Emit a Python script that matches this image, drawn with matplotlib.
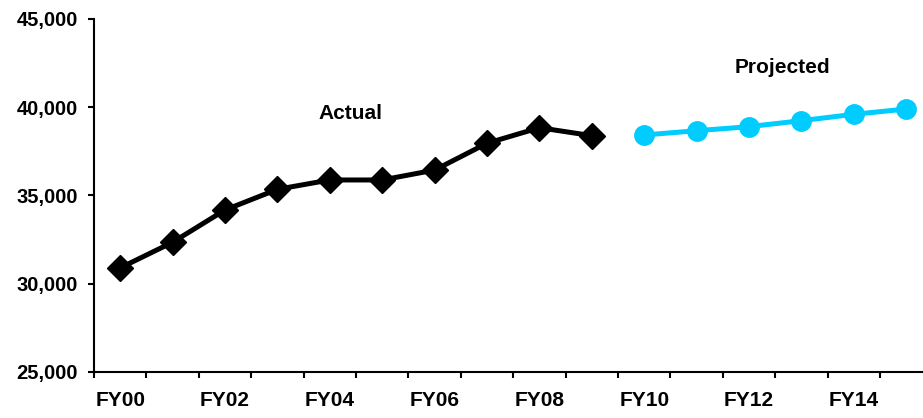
import numpy as np
import matplotlib.pyplot as plt

plt.rcParams['font.family'] = ['Liberation Sans', 'DejaVu Sans']
plt.rcParams['font.weight'] = 'bold'

years = ['FY%02d' % i for i in range(16)]
actual_years = years[:10]
actual = [30900, 32350, 34180, 35350, 35880, 35880, 36440, 37960, 38840, 38390]
projected_years = years[10:]
projected = [38430, 38670, 38900, 39240, 39600, 39900]

fig = plt.figure(figsize=(9.23, 4.18), dpi=100)
ax = fig.add_axes([94 / 923, 46 / 418, 838.4 / 923, 353 / 418])

x_act = np.arange(len(actual_years))
x_proj = np.arange(len(actual_years), len(years))

ax.plot(x_act, actual, color='black', linewidth=3.6, marker='D', markersize=13.5,
        clip_on=False, zorder=3)
ax.plot(x_proj, projected, color='#00CCFF', linewidth=3.6, marker='o', markersize=14,
        clip_on=False, zorder=3)

ax.text(4.4, 39650, 'Actual', fontsize=15, fontweight='bold', ha='center', va='center')
ax.text(12.63, 42250, 'Projected', fontsize=15, fontweight='bold', ha='center', va='center')

ax.set_xlim(-0.5, 15.5)
ax.set_ylim(25000, 45000)
ax.set_yticks(np.arange(25000, 45001, 5000))
ax.yaxis.set_major_formatter(plt.FuncFormatter(lambda v, p: '{:,.0f}'.format(v)))

# category labels every other year, tick marks between categories
ax.set_xticks(np.arange(0, 16, 2))
ax.set_xticklabels(years[::2])
ax.set_xticks(np.arange(-0.5, 16, 1), minor=True)
ax.tick_params(axis='x', which='major', length=0, pad=14, labelsize=15)
ax.tick_params(axis='x', which='minor', length=4.5, width=1.5, direction='out')
ax.tick_params(axis='y', length=4.5, width=1.5, pad=7, labelsize=14.5)

for lbl in ax.get_xticklabels() + ax.get_yticklabels():
    lbl.set_fontweight('bold')

ax.spines['top'].set_visible(False)
ax.spines['right'].set_visible(False)
ax.spines['left'].set_linewidth(1.5)
ax.spines['bottom'].set_linewidth(1.5)

fig.savefig('out.png', dpi=100)
